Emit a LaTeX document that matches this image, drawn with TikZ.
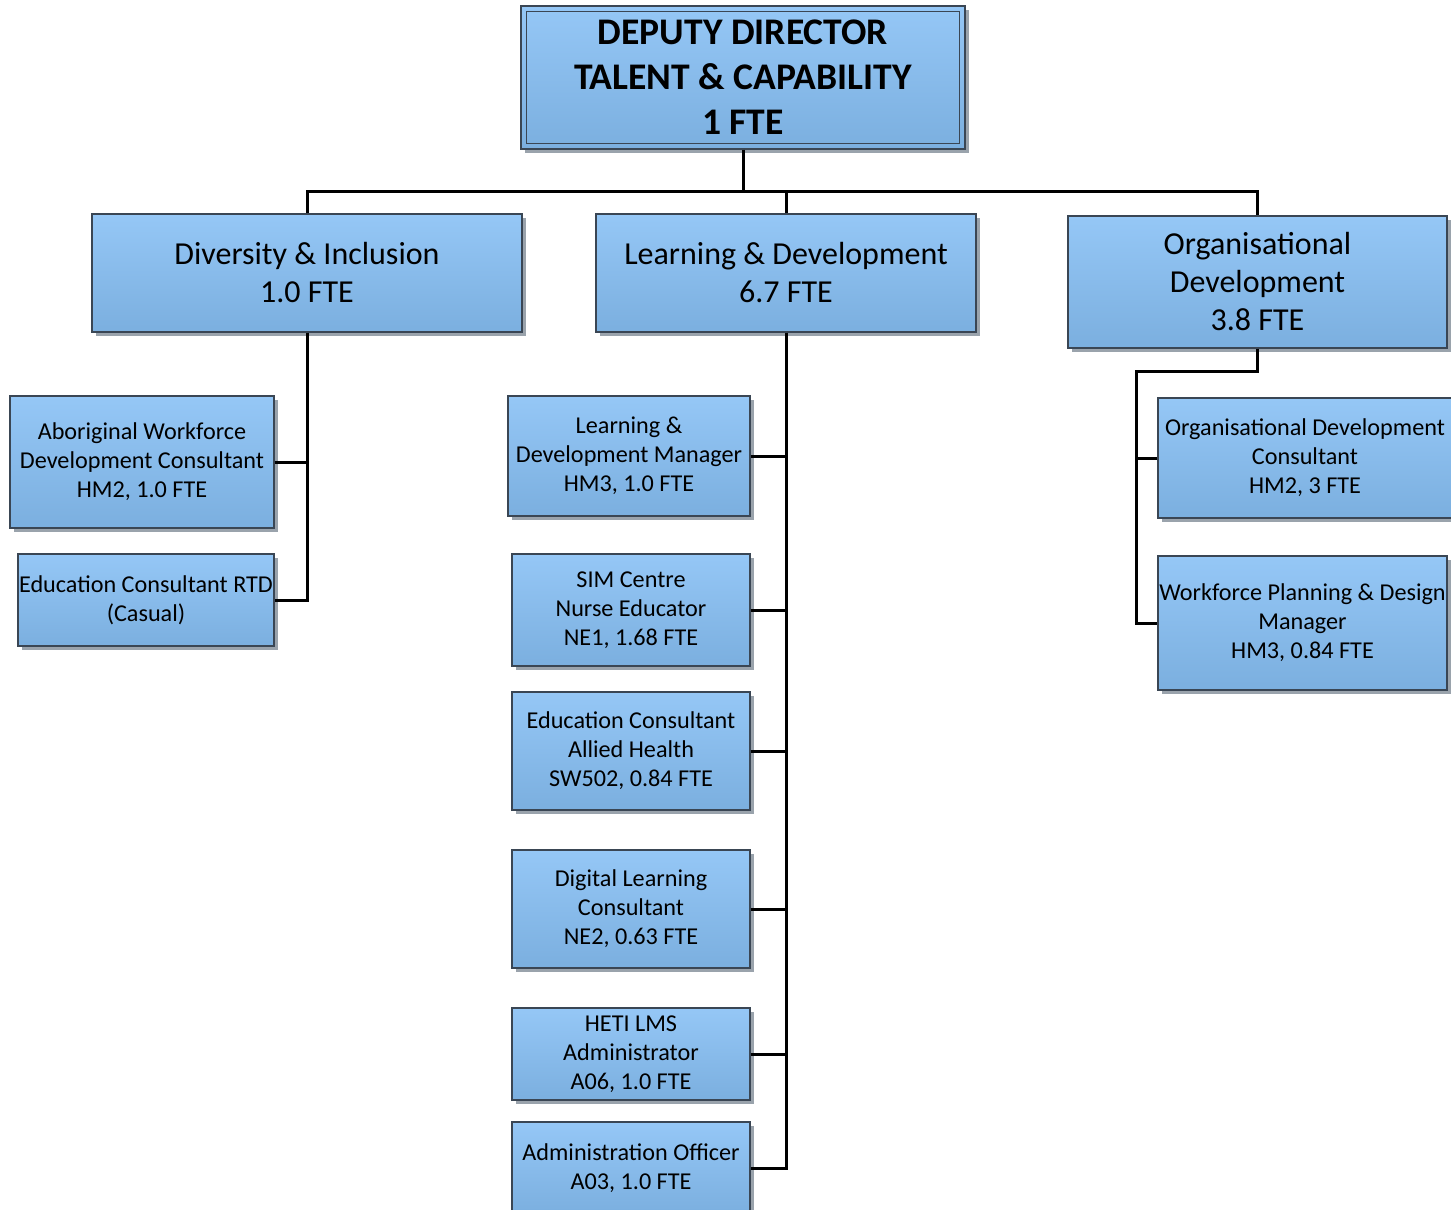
\documentclass[tikz,border=0pt]{standalone}
\usepackage{fontspec}
\setmainfont{Carlito}
\usetikzlibrary{shadows}
\definecolor{boxtop}{HTML}{95C7F6}
\definecolor{boxbot}{HTML}{7BAFDF}
\definecolor{boxline}{HTML}{3A4654}
\definecolor{shadowc}{HTML}{9AA3AC}
\tikzset{
  box/.style={draw=boxline, line width=0.7pt, top color=boxtop, bottom color=boxbot,
    drop shadow={shadow xshift=2pt, shadow yshift=-2pt, fill=shadowc, opacity=1},
    inner sep=0pt, align=center, text=black},
  small/.style={font=\fontsize{12.1pt}{14.5pt}\selectfont},
  mid/.style={font=\fontsize{16pt}{19pt}\selectfont},
  big/.style={font=\bfseries\fontsize{18.8pt}{22.5pt}\selectfont},
  conn/.style={draw=black, line width=1.5pt}
}
\newcommand\obox[7]{\node[box,#7, minimum width={(#4-#2)*0.5pt}, minimum height={(#5-#3)*0.5pt}] (#1) at ({(#2+#4)/2},{(#3+#5)/2}) {#6};}
\begin{document}
\begin{tikzpicture}[x=0.5pt,y=-0.5pt]
\useasboundingbox (0,0) rectangle (1451,1210);
\coordinate (busL) at (307,191);
\coordinate (odj) at (1136,371);
% boxes
\obox{top}{521}{6}{965}{149}{DEPUTY DIRECTOR\\TALENT \& CAPABILITY\\1 FTE}{big}
\draw[boxline, line width=0.7pt] ([shift={(3pt,-3pt)}]top.north west) rectangle ([shift={(-3pt,3pt)}]top.south east);
\obox{div}{92}{214}{522}{332}{Diversity \& Inclusion\\1.0 FTE}{mid}
\obox{ld}{596}{214}{976}{332}{Learning \& Development\\6.7 FTE}{mid}
\obox{od}{1068}{216}{1447}{348}{Organisational\\Development\\3.8 FTE}{mid}
\obox{abo}{10}{396}{274}{528}{Aboriginal Workforce\\Development Consultant\\HM2, 1.0 FTE}{small}
\obox{edu}{18}{554}{274}{646}{Education Consultant RTD\\(Casual)}{small}
\obox{ldm}{508}{396}{750}{516}{Learning \&\\Development Manager\\HM3, 1.0 FTE}{small}
\obox{sim}{512}{554}{750}{666}{SIM Centre\\Nurse Educator\\NE1, 1.68 FTE}{small}
\obox{ah}{512}{692}{750}{810}{Education Consultant\\Allied Health\\SW502, 0.84 FTE}{small}
\obox{dig}{512}{850}{750}{968}{Digital Learning\\Consultant\\NE2, 0.63 FTE}{small}
\obox{heti}{512}{1008}{750}{1100}{HETI LMS\\Administrator\\A06, 1.0 FTE}{small}
\obox{adm}{512}{1122}{750}{1214}{Administration Officer\\A03, 1.0 FTE}{small}
\obox{odc}{1158}{398}{1452}{518}{Organisational Development\\Consultant\\HM2, 3 FTE}{small}
\obox{wpd}{1158}{556}{1447}{690}{Workforce Planning \& Design\\Manager\\HM3, 0.84 FTE}{small}
% connectors
\draw[conn] (top.south) -- (top.south |- busL);
\draw[conn] (div.north) -- (div.north |- busL) -- (od.north |- busL) -- (od.north);
\draw[conn] (ld.north) -- (ld.north |- busL);
\draw[conn] (div.south) -- (div.south |- edu.east) -- (edu.east);
\draw[conn] (abo.east) -- (abo.east -| div.south);
\draw[conn] (ld.south) -- (ld.south |- adm.east) -- (adm.east);
\draw[conn] (ldm.east) -- (ldm.east -| ld.south);
\draw[conn] (sim.east) -- (sim.east -| ld.south);
\draw[conn] (ah.east) -- (ah.east -| ld.south);
\draw[conn] (dig.east) -- (dig.east -| ld.south);
\draw[conn] (heti.east) -- (heti.east -| ld.south);
\draw[conn] (od.south) -- (od.south |- odj) -- (odj) -- (odj |- wpd.west) -- (wpd.west);
\draw[conn] (odc.west) -- (odc.west -| odj);
\end{tikzpicture}
\end{document}
